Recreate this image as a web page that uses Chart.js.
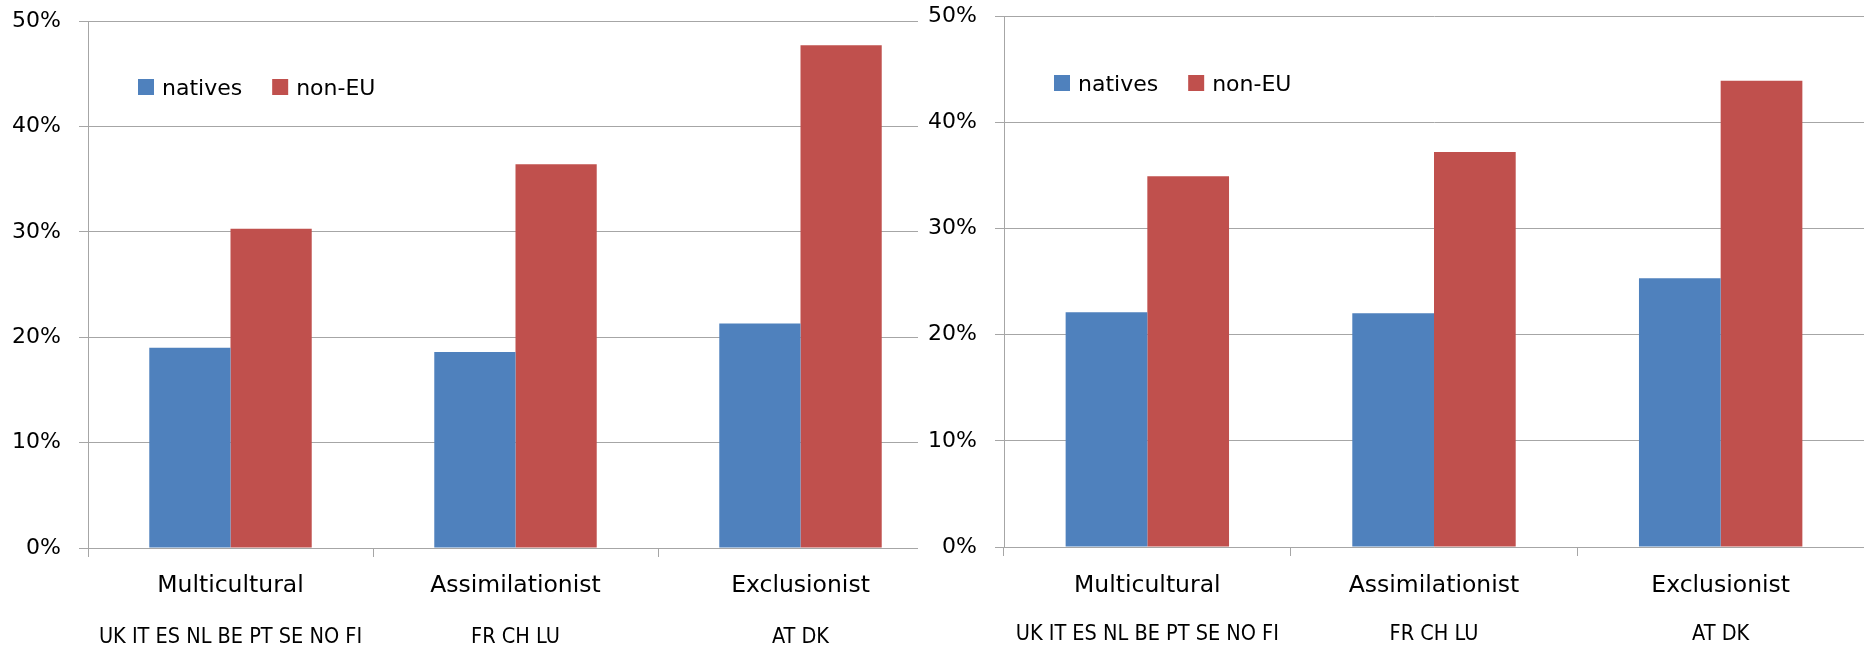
<!DOCTYPE html>
<html>
<head>
<meta charset="utf-8">
<script src="https://cdn.jsdelivr.net/npm/chart.js@4.4.1/dist/chart.umd.min.js"></script>
<style>
  html, body { margin: 0; padding: 0; background: #fff; }
  body { position: relative; width: 1864px; height: 647px; overflow: hidden; }
  canvas { position: absolute; top: 0; background: #fff; }
  #left { left: 0; }
  #right { left: 918px; }
</style>
</head>
<body>
<canvas id="left" width="943" height="647"></canvas>
<canvas id="right" width="946" height="647"></canvas>
<script>
const categories = ['Multicultural', 'Assimilationist', 'Exclusionist'];
const countryGroups = ['UK IT ES NL BE PT SE NO FI', 'FR CH LU', 'AT DK'];
const seriesNames = ['natives', 'non-EU'];
const seriesColors = ['#4F81BD', '#C0504D'];

const leftNatives = [19.0, 18.6, 21.3];
const leftNonEU = [30.3, 36.4, 47.7];
const rightNatives = [22.1, 22.0, 25.3];
const rightNonEU = [34.9, 37.2, 43.9];

const yMax = 50;
const yStep = 10;

const GRID = '#a6a6a6';
const MAIN_FONT = "'DejaVu Sans', Verdana, sans-serif";
const NARROW_FONT = "'Liberation Sans Narrow', 'DejaVu Sans Condensed', 'Arial Narrow', sans-serif";

// legend drawn inside the plot area, top-left
const innerLegend = {
  id: 'innerLegend',
  afterDraw(chart, args, opts) {
    const ctx = chart.ctx;
    const area = chart.chartArea;
    let x = area.left + opts.dx;
    const y = area.top + opts.dy;
    ctx.save();
    ctx.font = '22px ' + MAIN_FONT;
    ctx.textBaseline = 'alphabetic';
    ctx.textAlign = 'left';
    chart.data.datasets.forEach(ds => {
      ctx.fillStyle = ds.backgroundColor;
      ctx.fillRect(x, y - 8, 16, 16);
      x += 16 + 8;
      ctx.fillStyle = '#000';
      ctx.fillText(ds.label, x, y + 8);
      x += ctx.measureText(ds.label).width + 30;
    });
    ctx.restore();
  }
};

function buildChart(canvasId, natives, nonEU, lay) {
  const barOpts = { categoryPercentage: 0.57, barPercentage: 1, borderWidth: 0 };
  return new Chart(document.getElementById(canvasId), {
    type: 'bar',
    data: {
      labels: categories,
      datasets: [
        Object.assign({ label: seriesNames[0], data: natives, backgroundColor: seriesColors[0] }, barOpts),
        Object.assign({ label: seriesNames[1], data: nonEU, backgroundColor: seriesColors[1] }, barOpts)
      ]
    },
    options: {
      responsive: false,
      animation: false,
      layout: { padding: { top: lay.top, left: 0, right: 0, bottom: 0 } },
      plugins: {
        legend: { display: false },
        tooltip: { enabled: false },
        innerLegend: { dx: 50, dy: lay.legendY }
      },
      scales: {
        x: {
          weight: 0,
          offset: true,
          grid: { offset: true, drawOnChartArea: false, color: GRID, tickLength: 9 },
          border: { color: GRID },
          ticks: { font: { family: MAIN_FONT, size: 23.5 }, color: '#000', padding: lay.catPad, maxRotation: 0, autoSkip: false },
          afterFit: s => { s.height = 60; }
        },
        x2: {
          type: 'category',
          labels: countryGroups,
          position: 'bottom',
          weight: 1,
          offset: true,
          grid: { display: false, drawTicks: false },
          border: { display: false },
          ticks: { font: { family: NARROW_FONT, size: 21.5 }, color: '#000', padding: lay.ctyPad, maxRotation: 0, autoSkip: false },
          afterFit: s => { s.height = lay.ctyH; }
        },
        y: {
          min: 0,
          max: yMax,
          grid: { color: GRID, tickLength: 9 },
          border: { color: GRID },
          ticks: {
            stepSize: yStep,
            callback: v => v + '%',
            font: { family: MAIN_FONT, size: 22 },
            color: '#000',
            padding: 18
          },
          // fixed axis width; the label padding should not push the plot top down
          afterFit: s => {
            s.width = lay.yW;
            s.paddingTop = 0;
            s.paddingBottom = 0;
          }
        }
      }
    },
    plugins: [innerLegend]
  });
}

buildChart('left', leftNatives, leftNonEU, { top: 21, yW: 88, catPad: 15, ctyPad: 17, ctyH: 39, legendY: 66 });
buildChart('right', rightNatives, rightNonEU, { top: 16, yW: 86, catPad: 16, ctyPad: 15, ctyH: 40, legendY: 67 });
</script>
</body>
</html>
